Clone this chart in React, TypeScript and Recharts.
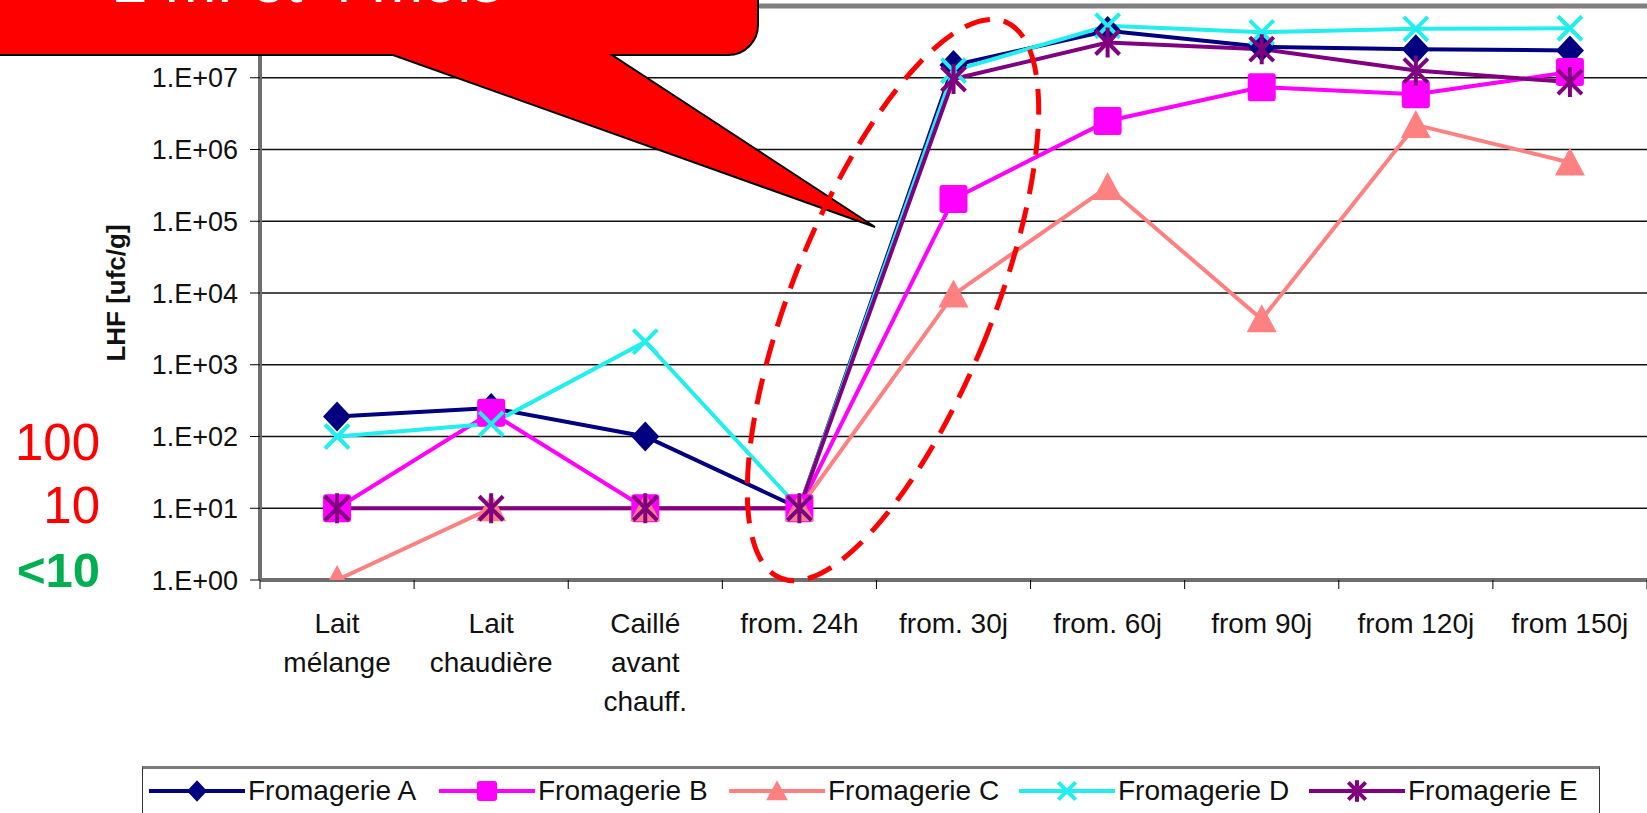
import React from "react";
import {
  LineChart,
  Line,
  XAxis,
  YAxis,
  CartesianGrid,
  Legend,
  ReferenceLine,
} from "recharts";

const FONT = "'Liberation Sans', Arial, sans-serif";

// stages sampled, left to right
const categories = [
  "Lait\nmélange",
  "Lait\nchaudière",
  "Caillé\navant\nchauff.",
  "from. 24h",
  "from. 30j",
  "from. 60j",
  "from 90j",
  "from 120j",
  "from 150j",
];

// LHF counts [ufc/g]
const fromagerieA = [190, 250, 100, 10, 1.5e7, 4.5e7, 2.7e7, 2.5e7, 2.4e7];
const fromagerieB = [10, 215, 10, 10, 2.05e5, 2.5e6, 7.4e6, 5.9e6, 1.2e7];
const fromagerieC = [1, 10, 10, 10, 9.5e3, 3.0e5, 4.3e3, 2.2e6, 6.6e5];
const fromagerieD = [100, 150, 2.1e3, 10, 1.26e7, 5.3e7, 4.3e7, 4.8e7, 4.9e7];
const fromagerieE = [10, 10, 10, 10, 9.6e6, 3.1e7, 2.5e7, 1.26e7, 8.7e6];

const seriesKeys = ["A", "B", "C", "D", "E"];
const seriesNames = [
  "Fromagerie A",
  "Fromagerie B",
  "Fromagerie C",
  "Fromagerie D",
  "Fromagerie E",
];
const seriesColors = ["#000080", "#ff00ff", "#ff8080", "#22eeee", "#800080"];
const seriesShapes = ["diamond", "square", "triangle", "cross", "star"];

const yTicks = [1, 10, 1e2, 1e3, 1e4, 1e5, 1e6, 1e7, 1e8];
// integer = tick mark between stages, .5 = stage label
const xTicks = [0, 0.5, 1, 1.5, 2, 2.5, 3, 3.5, 4, 4.5, 5, 5.5, 6, 6.5, 7, 7.5, 8, 8.5, 9];

const data = categories.map((label, i) => ({
  x: i + 0.5,
  label,
  A: fromagerieA[i],
  B: fromagerieB[i],
  C: fromagerieC[i],
  D: fromagerieD[i],
  E: fromagerieE[i],
}));

function Marker({ shape, cx, cy, color, s = 1 }: any) {
  if (cx == null || cy == null) return <g />;
  if (shape === "diamond") {
    return (
      <polygon
        points={`${cx},${cy - 15 * s} ${cx + 14 * s},${cy} ${cx},${cy + 15 * s} ${cx - 14 * s},${cy}`}
        fill={color}
      />
    );
  }
  if (shape === "square") {
    return (
      <rect
        x={cx - 14 * s}
        y={cy - 14 * s}
        width={28 * s}
        height={28 * s}
        rx={3}
        fill={color}
      />
    );
  }
  if (shape === "triangle") {
    return (
      <polygon
        points={`${cx},${cy - 15 * s} ${cx + 15 * s},${cy + 13 * s} ${cx - 15 * s},${cy + 13 * s}`}
        fill={color}
      />
    );
  }
  const d = 12 * s;
  return (
    <g stroke={color} strokeWidth={4} strokeLinecap="butt">
      <line x1={cx - d} y1={cy - d} x2={cx + d} y2={cy + d} />
      <line x1={cx - d} y1={cy + d} x2={cx + d} y2={cy - d} />
      {shape === "star" && (
        <line x1={cx} y1={cy - 15 * s} x2={cx} y2={cy + 15 * s} />
      )}
    </g>
  );
}

const StageTick = ({ x, y, payload }: any) => {
  const v = payload.value;
  if (Number.isInteger(v)) {
    return <line x1={x} y1={y} x2={x} y2={y + 9} stroke="#000" strokeWidth={1} />;
  }
  const lines = categories[Math.floor(v)].split("\n");
  return (
    <text x={x} y={y} textAnchor="middle" fontSize={28} fill="#111" fontFamily={FONT}>
      {lines.map((l, i) => (
        <tspan key={i} x={x} dy={i === 0 ? 53 : 39}>
          {l}
        </tspan>
      ))}
    </text>
  );
};

// the top decade sits under the callout, so its label stays empty
const expLabel = (v: number) =>
  v >= 1e8 ? "" : `1.E+${String(Math.round(Math.log10(v))).padStart(2, "0")}`;

const renderLegend = () => (
  <div
    style={{
      height: 47,
      boxSizing: "border-box",
      marginLeft: 142,
      width: 1458,
      borderTop: "3px solid #7a7a7a",
      borderLeft: "1.5px solid #333",
      borderRight: "1.5px solid #333",
      display: "flex",
      alignItems: "center",
      paddingLeft: 6,
      fontFamily: FONT,
      fontSize: 28,
      color: "#111",
      background: "#fff",
    }}
  >
    {seriesNames.map((name, i) => (
      <div key={name} style={{ display: "flex", alignItems: "center", width: 290 }}>
        <svg width={96} height={30}>
          <line x1={0} y1={15} x2={96} y2={15} stroke={seriesColors[i]} strokeWidth={4} />
          <Marker shape={seriesShapes[i]} cx={48} cy={15} color={seriesColors[i]} s={0.72} />
        </svg>
        <span style={{ marginLeft: 3 }}>{name}</span>
      </div>
    ))}
  </div>
);

export default function App() {
  return (
    <div style={{ position: "absolute", left: 0, top: 0, width: 1647, height: 813, background: "#fff" }}>
      <LineChart
        width={1647}
        height={813}
        data={data}
        margin={{ top: 6, right: 0, bottom: 0, left: 0 }}
        style={{ fontFamily: FONT }}
      >
        <CartesianGrid vertical={false} stroke="#111" strokeWidth={1.3} />
        <XAxis
          type="number"
          dataKey="x"
          domain={[0, 9]}
          ticks={xTicks}
          interval={0}
          height={186}
          tickLine={false}
          tickSize={0}
          tickMargin={0}
          tick={<StageTick />}
          axisLine={{ stroke: "#6e6e6e", strokeWidth: 4 }}
        />
        <YAxis
          type="number"
          scale="log"
          domain={[1, 1e8]}
          allowDataOverflow
          ticks={yTicks}
          interval={0}
          width={260}
          tickSize={10}
          tickMargin={12}
          tickFormatter={expLabel}
          tick={{ fill: "#111", fontSize: 27, fontFamily: FONT }}
          tickLine={{ stroke: "#000", strokeWidth: 1 }}
          axisLine={{ stroke: "#6e6e6e", strokeWidth: 4 }}
          label={{
            content: ({ viewBox }: any) => {
              const cx = viewBox.x + 116;
              const cy = viewBox.y + viewBox.height / 2;
              return (
                <text
                  x={cx}
                  y={cy}
                  transform={`rotate(-90 ${cx} ${cy})`}
                  textAnchor="middle"
                  dominantBaseline="central"
                  fontSize={26}
                  fontWeight="bold"
                  fill="#111"
                  fontFamily={FONT}
                >
                  LHF [ufc/g]
                </text>
              );
            },
          }}
        />
        <ReferenceLine y={1e8} stroke="#808080" strokeWidth={5} />
        {seriesKeys.map((k, i) => (
          <Line
            key={k}
            type="linear"
            dataKey={k}
            name={seriesNames[i]}
            stroke={seriesColors[i]}
            strokeWidth={4}
            isAnimationActive={false}
            activeDot={false}
            dot={(p: any) => (
              <Marker
                key={`${k}-${p.index}`}
                shape={seriesShapes[i]}
                cx={p.cx}
                cy={p.cy}
                color={seriesColors[i]}
              />
            )}
          />
        ))}
        <Legend verticalAlign="bottom" content={renderLegend} wrapperStyle={{ left: 0, bottom: 0 }} />
      </LineChart>

      <svg
        width={1647}
        height={813}
        style={{ position: "absolute", left: 0, top: 0, pointerEvents: "none" }}
      >
        <path
          d="M -20 -80 L 758 -80 L 758 25 A 30 30 0 0 1 728 55 L 612 55 L 875 227 L 393 55 L -20 55 Z"
          fill="#ff0000"
          stroke="#000"
          strokeWidth={2}
        />
        <text x={113} y={2} fill="#fff" fontSize={62} fontFamily={FONT}>
          2 m. et 4 mois
        </text>
        <ellipse
          cx={893}
          cy={300}
          rx={100}
          ry={300}
          transform="rotate(22 893 300)"
          fill="none"
          stroke="#ff0000"
          strokeWidth={5}
          strokeDasharray="26 14"
        />
        <g fontFamily={FONT} textAnchor="end">
          <text x={100} y={460} fontSize={51} fill="#ff0000">100</text>
          <text x={100} y={523} fontSize={51} fill="#ff0000">10</text>
          <text x={100} y={587} fontSize={49} fontWeight="bold" fill="#00b050">&lt;10</text>
        </g>
      </svg>
    </div>
  );
}
